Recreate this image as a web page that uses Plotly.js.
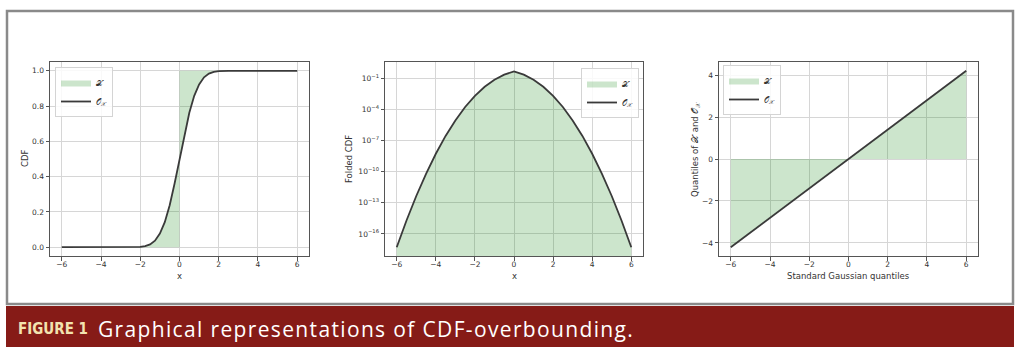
<!DOCTYPE html>
<html>
<head>
<meta charset="utf-8">
<script src="https://cdn.plot.ly/plotly-3.0.1.min.js"></script>
<style>
html,body{margin:0;padding:0;background:#fff;}
#chart{width:1024px;height:360px;}
#chart .annotation[data-index="7"] text{letter-spacing:1.35px;}
</style>
</head>
<body>
<div id="chart"></div>
<script>
// ---- Panel 1: CDF ----
const cdfX = [-6,-4,-3,-2.5,-2,-1.75,-1.5,-1.25,-1,-0.75,-0.5,-0.25,0,0.25,0.5,0.75,1,1.25,1.5,1.75,2,2.5,3,4,6];
const cdfY = [0,0,0,0.0002,0.002,0.006,0.016,0.037,0.077,0.142,0.238,0.361,0.5,0.639,0.762,0.858,0.923,0.963,0.984,0.994,0.998,0.9998,1,1,1];
// step CDF of X (returned path for shaded region)
const stepX = [6,0,0,-6];
const stepY = [1,1,0,0];
const cdfTicks = [0,0.2,0.4,0.6,0.8,1.0];

// ---- Panel 2: Folded CDF ----
const foldX = [-6,-5.5,-5,-4.5,-4,-3.5,-3,-2.5,-2,-1.5,-1,-0.5,0,0.5,1,1.5,2,2.5,3,3.5,4,4.5,5,5.5,6];
const foldY = [5.2e-18,2.0e-15,4.6e-13,6.4e-11,5.5e-9,2.9e-7,9.1e-6,1.8e-4,2.1e-3,1.6e-2,7.7e-2,2.4e-1,5e-1,
               2.4e-1,7.7e-2,1.6e-2,2.1e-3,1.8e-4,9.1e-6,2.9e-7,5.5e-9,6.4e-11,4.6e-13,2.0e-15,5.2e-18];
const foldFloor = 1e-20;
const foldTickVals = [1e-16,1e-13,1e-10,1e-7,1e-4,1e-1];
const foldTickText = ['10<sup>−16</sup>','10<sup>−13</sup>','10<sup>−10</sup>','10<sup>−7</sup>','10<sup>−4</sup>','10<sup>−1</sup>'];

// ---- Panel 3: Quantiles ----
const qX = [-6,-4,-2,0,2,4,6];
const qY = [-4.2,-2.8,-1.4,0,1.4,2.8,4.2];

const xTicks = [-6,-4,-2,0,2,4,6];
const nameX = '𝒳';
const nameO = '𝒪<sub>𝒳</sub>';

const fillCol = 'rgba(0,125,0,0.2)';
const lineCol = '#3a3a3a';
const W = 1024, H = 360;
const px = v => v / W;
const py = v => 1 - v / H;

const traces = [
  {x: cdfX.concat(stepX), y: cdfY.concat(stepY), xaxis:'x', yaxis:'y', mode:'lines', fill:'toself',
   fillcolor: fillCol, line:{width:0}, name: nameX, legend:'legend', hoverinfo:'skip'},
  {x: cdfX, y: cdfY, xaxis:'x', yaxis:'y', mode:'lines', line:{color:lineCol, width:1.8}, name: nameO, legend:'legend'},

  {x: foldX.concat([6,-6]), y: foldY.concat([foldFloor, foldFloor]), xaxis:'x2', yaxis:'y2', mode:'lines', fill:'toself',
   fillcolor: fillCol, line:{width:0}, name: nameX, legend:'legend2', hoverinfo:'skip'},
  {x: foldX, y: foldY, xaxis:'x2', yaxis:'y2', mode:'lines', line:{color:lineCol, width:1.8}, name: nameO, legend:'legend2'},

  {x: qX, y: qY, xaxis:'x3', yaxis:'y3', mode:'lines', fill:'tozeroy',
   fillcolor: fillCol, line:{width:0}, name: nameX, legend:'legend3', hoverinfo:'skip'},
  {x: qX, y: qY, xaxis:'x3', yaxis:'y3', mode:'lines', line:{color:lineCol, width:1.8}, name: nameO, legend:'legend3'}
];

const tickFont = {family:'DejaVu Sans', size:7.5, color:'#333'};
function xa(dom, anchor) {
  return {domain: dom, anchor: anchor, range:[-6.6,6.6], tickvals: xTicks, ticks:'outside', ticklen:3.5, tickcolor:'#555',
    showline:true, mirror:true, linecolor:'#555', linewidth:1, gridcolor:'#d6d6d6', gridwidth:1, zeroline:false,
    tickfont: tickFont, ticklabelstandoff:-3};
}
function ya(anchor, extra) {
  return Object.assign({domain:[py(256), py(62)], anchor: anchor, ticks:'outside', ticklen:3.5, tickcolor:'#555',
    showline:true, mirror:true, linecolor:'#555', linewidth:1, gridcolor:'#d6d6d6', gridwidth:1, zeroline:false,
    tickfont: tickFont}, extra);
}
const legBase = {bgcolor:'rgba(255,255,255,0.85)', bordercolor:'#d4d4d4', borderwidth:1,
  font:{family:'DejaVu Serif', size:8, color:'#333'}, itemwidth:30, tracegroupgap:0};

const titleFont = {family:'DejaVu Sans', size:8.5, color:'#333'};
const ctr = {xref:'paper', yref:'paper', showarrow:false, xanchor:'center', yanchor:'middle', font:titleFont};
const annotations = [
  Object.assign({text:'x', x:px(179.5), y:py(275.5)}, ctr),
  Object.assign({text:'x', x:px(514), y:py(275.5)}, ctr),
  Object.assign({text:'Standard Gaussian quantiles', x:px(848.5), y:py(275.5)}, ctr),
  Object.assign({text:'CDF', x:px(25), y:py(159), textangle:-90}, ctr),
  Object.assign({text:'Folded CDF', x:px(349), y:py(159), textangle:-90}, ctr),
  Object.assign({text:'Quantiles of ' + nameX + ' and ' + nameO, x:px(695), y:py(150), textangle:-90}, ctr),
  {text:'<b>FIGURE 1</b>', x:px(16), y:py(328.5), xref:'paper', yref:'paper', xanchor:'left', yanchor:'middle', showarrow:false,
   font:{family:'Liberation Sans Narrow, DejaVu Sans Condensed, sans-serif', size:15, color:'#f3e3b0'}},
  // letter-spacing (CSS) widens this text around its measured centre, so the anchor is offset to keep its left edge at ~96px
  {text:'Graphical representations of CDF-overbounding.', x:px(127), y:py(329), xref:'paper', yref:'paper', xanchor:'left', yanchor:'middle', showarrow:false,
   font:{family:'Open Sans', size:21, color:'#ffffff'}}
];

const shapes = [
  {type:'rect', xref:'paper', yref:'paper', x0:px(7), x1:px(1013), y0:py(304), y1:py(11), line:{color:'#8a8a8a', width:2.5}, fillcolor:'rgba(0,0,0,0)', layer:'below'},
  {type:'rect', xref:'paper', yref:'paper', x0:px(6), x1:px(1014), y0:py(347), y1:py(306), line:{width:0}, fillcolor:'#861b17', layer:'below'}
];

const layout = {
  width: W, height: H, margin:{l:0, r:0, t:0, b:0}, paper_bgcolor:'#fff', plot_bgcolor:'rgba(0,0,0,0)',
  showlegend:true,
  xaxis: xa([px(50), px(309)], 'y'),
  yaxis: ya('x', {range:[-0.05,1.05], tickvals: cdfTicks, tickformat:'.1f'}),
  xaxis2: xa([px(385), px(643)], 'y2'),
  yaxis2: ya('x2', {type:'log', range:[-18.13, 0.6], tickvals: foldTickVals, ticktext: foldTickText}),
  xaxis3: xa([px(719), px(978)], 'y3'),
  yaxis3: ya('x3', {range:[-4.62, 4.62], tickvals:[-4,-2,0,2,4]}),
  legend: Object.assign({}, legBase, {x:px(55), y:py(67), xanchor:'left', yanchor:'top'}),
  legend2: Object.assign({}, legBase, {x:px(639), y:py(68), xanchor:'right', yanchor:'top'}),
  legend3: Object.assign({}, legBase, {x:px(723), y:py(65), xanchor:'left', yanchor:'top'}),
  annotations: annotations,
  shapes: shapes
};

Plotly.newPlot('chart', traces, layout, {displayModeBar:false, staticPlot:true});
</script>
</body>
</html>
